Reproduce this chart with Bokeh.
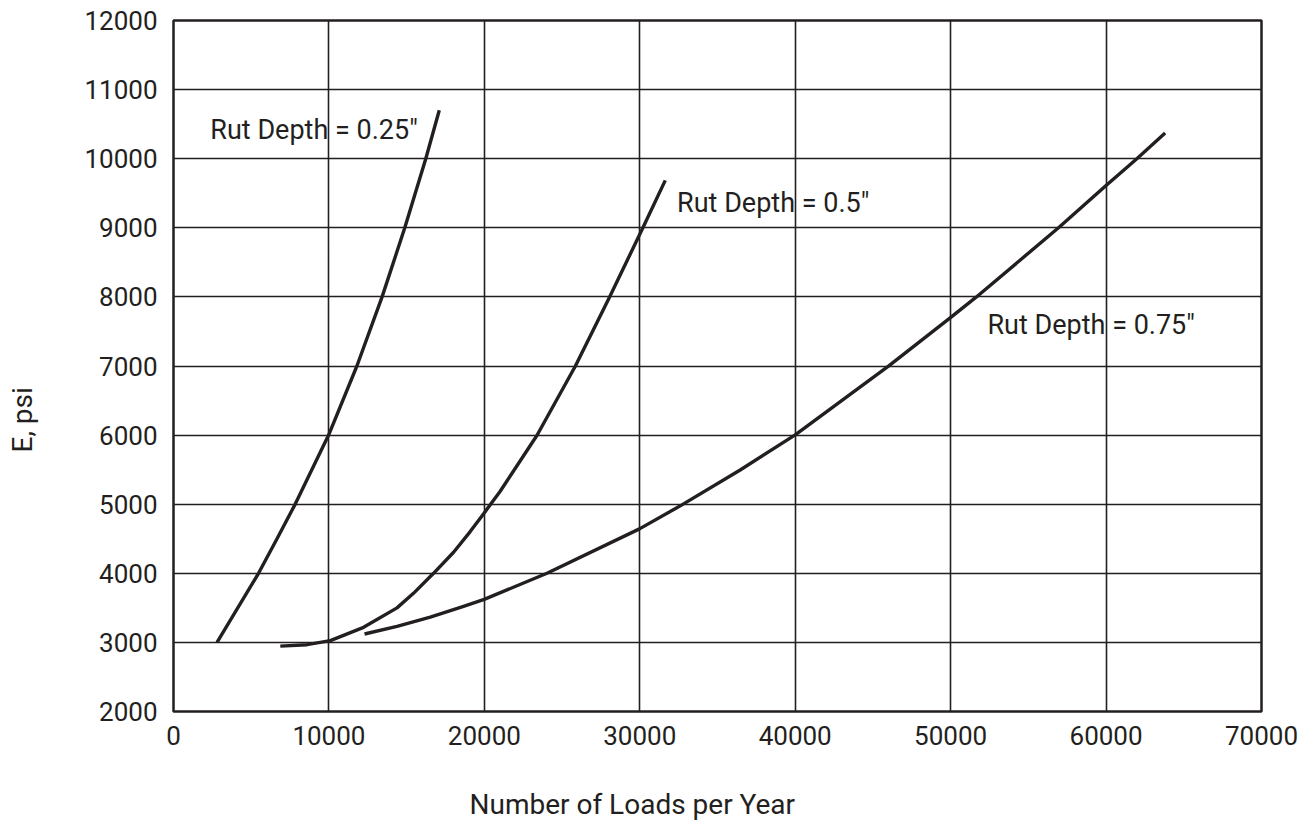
from bokeh.plotting import figure
from bokeh.models import Label, SingleIntervalTicker, NumeralTickFormatter, Title
from bokeh.embed import file_html
from bokeh.resources import INLINE

# Rut depth = 0.25"
c1_x = [2800, 5470, 6660, 7840, 9980, 11800, 13420, 14880, 16230, 17100]
c1_y = [3000, 4000, 4500, 5005, 6000, 7000, 8000, 9000, 10000, 10700]
# Rut depth = 0.5"
c2_x = [6870, 8590, 10090, 12230, 14380, 15440, 16730, 18020, 19090, 19990, 21020, 23380, 25850, 28050, 30200, 31640]
c2_y = [2946, 2967, 3025, 3218, 3500, 3710, 4000, 4304, 4604, 4874, 5187, 5994, 6997, 7996, 9000, 9686]
# Rut depth = 0.75"
c3_x = [12290, 14380, 16520, 18660, 19990, 24030, 29980, 32710, 36460, 40000, 46000, 50010, 51640, 56940, 60000, 61980, 63800]
c3_y = [3122, 3232, 3365, 3522, 3622, 4000, 4643, 4990, 5495, 6004, 6997, 7704, 7996, 9000, 9613, 10000, 10371]

labels = ['Rut Depth = 0.25"', 'Rut Depth = 0.5"', 'Rut Depth = 0.75"']
label_x = [2370, 32400, 52370]
label_y = [10410, 9355, 7600]

x_title = "Number of Loads per Year"
y_title = "E, psi"

FONT = "Roboto"
INK = "#231f20"

p = figure(width=1306, height=823, x_range=(0, 70000), y_range=(2000, 12000),
           output_backend="svg", toolbar_location=None,
           min_border_left=173, min_border_right=45, min_border_top=20, min_border_bottom=112)
p.background_fill_color = "white"
p.border_fill_color = "white"
p.outline_line_color = INK
p.outline_line_width = 2.5

p.xaxis.ticker = SingleIntervalTicker(interval=10000, num_minor_ticks=0)
p.yaxis.ticker = SingleIntervalTicker(interval=1000, num_minor_ticks=0)
p.xaxis.formatter = NumeralTickFormatter(format="0")
p.yaxis.formatter = NumeralTickFormatter(format="0")
for ax in (p.xaxis, p.yaxis):
    ax.axis_line_color = None
    ax.major_tick_line_color = None
    ax.minor_tick_line_color = None
    ax.major_tick_in = 0
    ax.major_tick_out = 0
    ax.major_label_text_font = FONT
    ax.major_label_text_font_size = "26px"
    ax.major_label_text_color = INK
    # blank spacer label, pushes the titles outward
    ax.axis_label = "\u00a0"
    ax.axis_label_text_font_size = "10px"
p.xaxis.major_label_standoff = 14
p.yaxis.major_label_standoff = 16
p.xaxis.axis_label_standoff = 26
p.yaxis.axis_label_standoff = 27

p.xgrid.ticker = SingleIntervalTicker(interval=10000)
p.ygrid.ticker = SingleIntervalTicker(interval=1000)
for g in (p.xgrid, p.ygrid):
    g.grid_line_color = INK
    g.grid_line_width = 1.6
    g.grid_line_alpha = 1.0

for xs, ys in ((c1_x, c1_y), (c2_x, c2_y), (c3_x, c3_y)):
    p.line(xs, ys, line_color=INK, line_width=3.4, line_cap="butt", line_join="round")

for t, lx, ly in zip(labels, label_x, label_y):
    p.add_layout(Label(x=lx, y=ly, text=t, text_font=FONT, text_font_size="27px",
                       text_color=INK, text_baseline="middle", text_align="left"))

p.add_layout(Title(text=x_title, align="left", offset=296, vertical_align="top", standoff=0,
                   text_font=FONT, text_font_size="28px", text_font_style="normal",
                   text_color=INK), "below")
p.add_layout(Title(text=y_title, align="left", offset=259, vertical_align="top", standoff=0,
                   text_font=FONT, text_font_size="28px", text_font_style="normal",
                   text_color=INK), "left")

open("out.html", "w").write(file_html(p, INLINE))
